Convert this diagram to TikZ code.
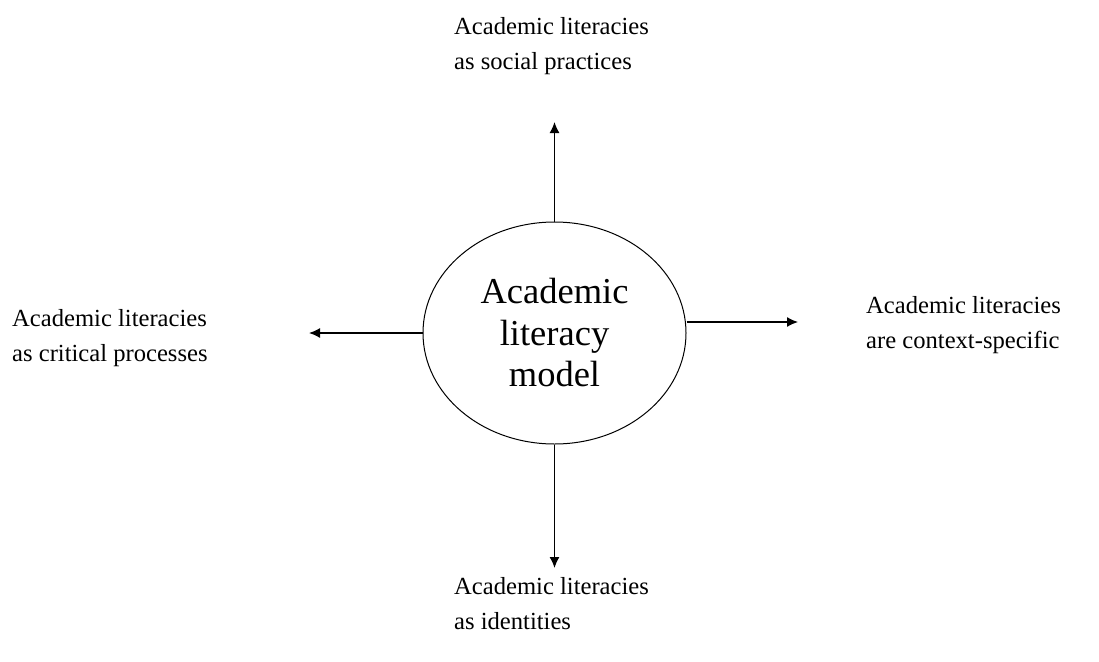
\documentclass[tikz,border=0pt]{standalone}
\usepackage{fontspec}
\setmainfont{Liberation Serif}
\usetikzlibrary{shapes.geometric,arrows.meta}
\begin{document}
\begin{tikzpicture}[x=1pt,y=-1pt,
  lbl/.style={inner sep=0pt,align=left,anchor=west,font=\fontsize{24.6}{35}\selectfont},
  centre/.style={draw,ellipse,line width=1pt,inner sep=0pt,minimum width=263pt,minimum height=222pt,align=center,font=\fontsize{36.5}{41.5}\selectfont},
  arr/.style={line width=1.3pt,-{Latex[length=11pt,width=10pt]}}]
\useasboundingbox (0,0) rectangle (1099,661);
\node[centre] (m) at (554.5,333) {Academic\\literacy\\model};
\node[lbl] (top) at (454,46) {Academic literacies\\as social practices};
\node[lbl] (left) at (12,338) {Academic literacies\\as critical processes};
\node[lbl] (right) at (866,325) {Academic literacies\\are context-specific};
\node[lbl] (bot) at (454,604) {Academic literacies\\as identities};
\coordinate (tu) at (554.5,122);
\coordinate (td) at (554.5,568);
\coordinate (tl) at (309,333);
\coordinate (tr) at (798,322);
\draw[arr] (m.north) -- (tu);
\draw[arr] (m.south) -- (td);
\draw[arr] (m.west) -- (tl);
\draw[arr] (tr -| m.east) -- (tr);
\end{tikzpicture}
\end{document}
